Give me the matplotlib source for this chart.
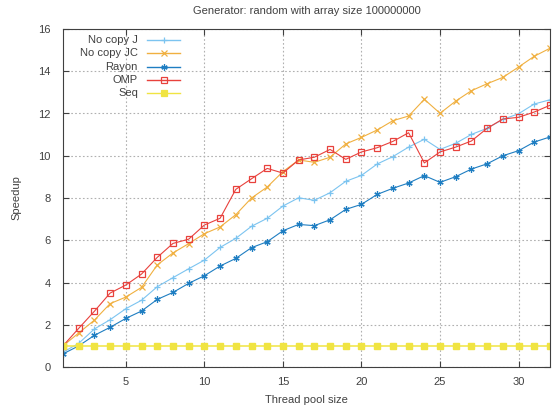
import numpy as np
import matplotlib.pyplot as plt
from matplotlib.lines import Line2D

plt.rcParams['font.family'] = ['Liberation Sans', 'DejaVu Sans']
plt.rcParams['font.size'] = 8

# Datos
threads = list(range(1, 33))
no_copy_j = [0.7, 1.12, 1.8, 2.24, 2.76, 3.16, 3.8, 4.23, 4.65, 5.06, 5.66, 6.09,
             6.66, 7.04, 7.62, 8.01, 7.89, 8.25, 8.79, 9.07, 9.61, 9.96, 10.41, 10.78,
             10.3, 10.59, 11.01, 11.3, 11.72, 11.99, 12.45, 12.65]
no_copy_jc = [1.0, 1.61, 2.22, 3.0, 3.31, 3.77, 4.83, 5.4, 5.84, 6.31, 6.63, 7.21,
              8.0, 8.52, 9.25, 9.8, 9.69, 9.93, 10.56, 10.87, 11.22, 11.66, 11.88, 12.67,
              12.01, 12.59, 13.08, 13.41, 13.71, 14.2, 14.71, 15.09]
rayon = [0.62, 1.0, 1.5, 1.88, 2.3, 2.65, 3.2, 3.53, 3.96, 4.32, 4.78, 5.14,
         5.65, 5.93, 6.45, 6.75, 6.69, 6.97, 7.46, 7.7, 8.17, 8.46, 8.71, 9.06,
         8.74, 9.01, 9.37, 9.62, 10.0, 10.24, 10.65, 10.89]
omp = [1.0, 1.83, 2.64, 3.5, 3.88, 4.4, 5.19, 5.85, 6.05, 6.72, 7.04, 8.41,
       8.91, 9.4, 9.18, 9.8, 9.93, 10.3, 9.83, 10.18, 10.38, 10.68, 11.09, 9.66,
       10.18, 10.41, 10.7, 11.3, 11.74, 11.82, 12.07, 12.39]
seq = [1.0] * 32

series = [
    ("No copy J", no_copy_j, "#7cc4f0", "+", "none"),
    ("No copy JC", no_copy_jc, "#f0b040", "x", "none"),
    ("Rayon", rayon, "#1f7ec2", (6, 2, 0), "none"),
    ("OMP", omp, "#e8413c", "s", "none"),
    ("Seq", seq, "#f0e442", "s", "full"),
]

fig = plt.figure(figsize=(5.57, 4.11), dpi=100)
ax = fig.add_axes([63 / 557, 1 - 367 / 411, (550 - 63) / 557, (367 - 29) / 411])

for nombre, vals, color, mk, fill in series:
    if fill == "full":
        ax.plot(threads, vals, color=color, lw=1.1, marker=mk, ms=4,
                mfc=color, mec=color)
    else:
        ax.plot(threads, vals, color=color, lw=0.8, marker=mk, ms=4.5,
                mfc="none", mec=color, mew=0.9)

ax.set_xlim(1, 32)
ax.set_ylim(0, 16)
ax.set_xticks([5, 10, 15, 20, 25, 30])
ax.set_yticks(np.arange(0, 17, 2))
ax.grid(True, color="#b0b0b0", linestyle=(0, (1.5, 2)), lw=0.8)
ax.tick_params(direction="in", top=True, right=True, length=4, colors="#404040",
               labelcolor="#404040")
ax.tick_params(axis="y", pad=9)
ax.tick_params(axis="x", pad=7)
for s in ax.spines.values():
    s.set_color("#404040")
ax.set_xlabel("Thread pool size", color="#404040", labelpad=6)
ax.set_ylabel("Speedup", color="#404040", labelpad=12)
ax.set_title("Generator: random with array size 100000000", color="#404040",
             fontsize=8, pad=11)

# Leyenda a mano, texto alineado a la derecha
ys = [40, 53, 67, 80, 93]
for (nombre, vals, color, mk, fill), py in zip(series, ys):
    yy = 1 - (py - 29) / (367 - 29)
    x_txt = (138 - 63) / (550 - 63)
    x0 = (147 - 63) / (550 - 63)
    x1 = (180 - 63) / (550 - 63)
    ax.text(x_txt, yy, nombre, ha="right", va="center", transform=ax.transAxes,
            color="#404040")
    mfc = color if fill == "full" else "none"
    ax.add_line(Line2D([x0, x1], [yy, yy], color=color, lw=1.0,
                       transform=ax.transAxes))
    ax.add_line(Line2D([(x0 + x1) / 2], [yy], marker=mk, ms=4.5, mfc=mfc, mec=color,
                       mew=0.9, transform=ax.transAxes))

fig.savefig("out.png", dpi=100)
